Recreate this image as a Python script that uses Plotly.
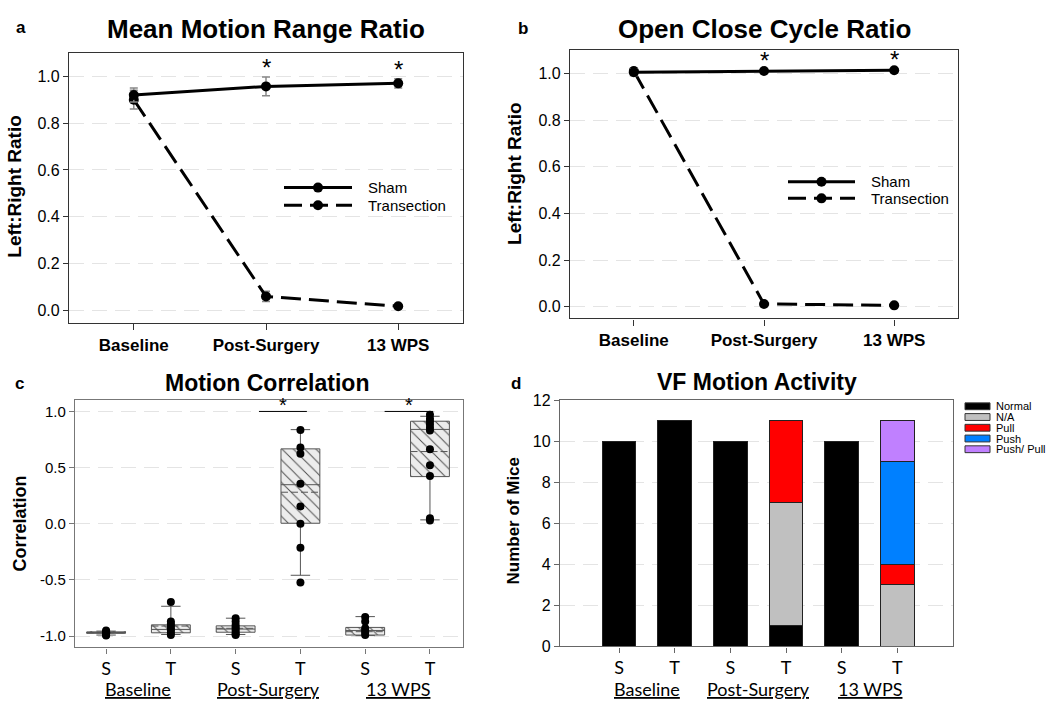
import plotly.graph_objects as go

# ---------------- data ----------------
timepoints = ["Baseline", "Post-Surgery", "13 WPS"]

# Panel a: Mean Motion Range Ratio
a_sham = [0.920, 0.957, 0.970]
a_sham_err = [0.030, 0.040, 0.020]
a_trans = [0.900, 0.060, 0.018]
a_trans_err = [0.040, 0.022, 0.006]

# Panel b: Open Close Cycle Ratio
b_sham = [1.005, 1.010, 1.013]
b_sham_err = [0.015, 0.004, 0.004]
b_trans = [1.010, 0.012, 0.006]
b_trans_err = [0.012, 0.004, 0.003]

# Panel c: Motion Correlation (box statistics + individual points)
c_labels = ["S", "T", "S", "T", "S", "T"]
c_q1 = [-0.975, -0.970, -0.965, 0.005, -0.990, 0.420]
c_median = [-0.968, -0.940, -0.937, 0.348, -0.950, 0.840]
c_mean = [-0.970, -0.910, -0.930, 0.281, -0.960, 0.643]
c_q3 = [-0.962, -0.899, -0.908, 0.667, -0.922, 0.913]
c_lowfence = [-0.990, -0.985, -0.985, -0.458, -0.995, 0.035]
c_highfence = [-0.955, -0.734, -0.840, 0.838, -0.826, 0.957]
c_points = [
    [-0.95, -0.96, -0.965, -0.97, -0.975, -0.98, -0.99, -0.995],
    [-0.696, -0.87, -0.89, -0.91, -0.93, -0.95, -0.97, -0.99],
    [-0.84, -0.87, -0.90, -0.92, -0.94, -0.96, -0.98, -0.99],
    [0.835, 0.680, 0.623, 0.357, 0.154, 0.000, -0.212, -0.522],
    [-0.83, -0.87, -0.93, -0.95, -0.97, -0.99],
    [0.970, 0.936, 0.910, 0.884, 0.855, 0.830, 0.664, 0.522, 0.426, 0.049, 0.030],
]

# Panel d: VF Motion Activity (number of mice)
d_labels = ["S", "T", "S", "T", "S", "T"]
d_series = ["Normal", "N/A", "Pull", "Push", "Push/ Pull"]
d_normal = [10, 11, 10, 1, 10, 0]
d_na = [0, 0, 0, 6, 0, 3]
d_pull = [0, 0, 0, 4, 0, 1]
d_push = [0, 0, 0, 0, 0, 5]
d_pushpull = [0, 0, 0, 0, 0, 2]
d_colors = ["#000000", "#c0c0c0", "#ff0000", "#0080ff", "#c080ff"]

# ---------------- layout helpers ----------------
W, H = 1050, 714
def fx(p):
    return p / W
def fy(p):
    return 1 - p / H

ARIAL = "Liberation Sans"
CAL = "Lato"
GRID = "#e4e4e4"
BOXW = 0.6

fig = go.Figure()

# ---------- panels a & b (line charts) ----------
def line_panel(xa, ya, sham, sham_err, trans, trans_err):
    xs = list(range(len(timepoints)))
    fig.add_trace(go.Scatter(
        x=xs, y=trans, mode="lines+markers", xaxis=xa, yaxis=ya,
        line=dict(color="black", width=3, dash="20px,8px"),
        marker=dict(color="black", size=10),
        error_y=dict(type="data", array=trans_err, color="#888888", thickness=1.5, width=4),
        showlegend=False, name="Transection"))
    fig.add_trace(go.Scatter(
        x=xs, y=sham, mode="lines+markers", xaxis=xa, yaxis=ya,
        line=dict(color="black", width=3),
        marker=dict(color="black", size=10),
        error_y=dict(type="data", array=sham_err, color="#888888", thickness=1.5, width=4),
        showlegend=False, name="Sham"))

line_panel("x", "y", a_sham, a_sham_err, a_trans, a_trans_err)
line_panel("x2", "y2", b_sham, b_sham_err, b_trans, b_trans_err)

# ---------- panel c (box plots) ----------
c_x = list(range(len(c_labels)))
fig.add_trace(go.Bar(
    x=c_x, y=[q3 - q1 for q1, q3 in zip(c_q1, c_q3)], base=c_q1, width=BOXW,
    xaxis="x3", yaxis="y3", showlegend=False,
    marker=dict(color="#ececec", line=dict(width=0),
                pattern=dict(shape="\\", fgcolor="#4d4d4d", bgcolor="#ececec",
                             size=8, solidity=0.12, fillmode="replace"))))
fig.add_trace(go.Box(
    x=c_x, q1=c_q1, median=c_median, q3=c_q3,
    lowerfence=c_lowfence, upperfence=c_highfence, boxmean=False,
    boxpoints=False, width=BOXW, whiskerwidth=0.5,
    fillcolor="rgba(0,0,0,0)", line=dict(color="#555555", width=1),
    xaxis="x3", yaxis="y3", showlegend=False))
# mean lines (dashed) across each box
mx, my = [], []
for xi, m in zip(c_x, c_mean):
    mx += [xi - BOXW / 2, xi + BOXW / 2, None]
    my += [m, m, None]
fig.add_trace(go.Scatter(x=mx, y=my, mode="lines", xaxis="x3", yaxis="y3",
                         line=dict(color="#555555", width=1, dash="7px,3px"),
                         showlegend=False, hoverinfo="skip"))
px_, py_ = [], []
for i, pts in enumerate(c_points):
    px_ += [c_x[i]] * len(pts)
    py_ += pts
fig.add_trace(go.Scatter(x=px_, y=py_, mode="markers", xaxis="x3", yaxis="y3",
                         marker=dict(color="black", size=8), showlegend=False))

# ---------- panel d (stacked bars) ----------
d_x = list(range(len(d_labels)))
for name, vals, col in zip(d_series, [d_normal, d_na, d_pull, d_push, d_pushpull], d_colors):
    fig.add_trace(go.Bar(
        x=d_x, y=[v if v else None for v in vals], width=0.6, name=name,
        marker=dict(color=col, line=dict(color="#222222", width=1)),
        xaxis="x4", yaxis="y4", showlegend=False))

# ---------- axes ----------
def ax_common(**kw):
    base = dict(showline=True, mirror=True, linewidth=1.3, ticks="outside",
                zeroline=False, showgrid=False)
    base.update(kw)
    return base

lay = dict(
    width=W, height=H, margin=dict(l=0, r=0, t=0, b=0),
    paper_bgcolor="white", plot_bgcolor="white", barmode="stack",
    font=dict(family=ARIAL, color="black"),
    # panel a
    xaxis=ax_common(domain=[fx(69), fx(463)], anchor="y", range=[-0.49, 2.49],
                    tickvals=[0, 1, 2], ticktext=timepoints, linecolor="#333333",
                    tickcolor="#333333", ticklen=6,
                    tickfont=dict(family=ARIAL, size=17, weight="bold")),
    yaxis=ax_common(domain=[fy(323), fy(46)], anchor="x", range=[-0.055, 1.1],
                    tickvals=[0, 0.2, 0.4, 0.6, 0.8, 1.0], tickformat=".1f",
                    linecolor="#333333", tickcolor="#333333", ticklen=5,
                    showgrid=True, gridcolor=GRID, griddash="15px,8px",
                    tickfont=dict(family=ARIAL, size=16)),
    # panel b
    xaxis2=ax_common(domain=[fx(570), fx(958)], anchor="y2", range=[-0.49, 2.49],
                     tickvals=[0, 1, 2], ticktext=timepoints, linecolor="#333333",
                     tickcolor="#333333", ticklen=6,
                     tickfont=dict(family=ARIAL, size=17, weight="bold")),
    yaxis2=ax_common(domain=[fy(318), fy(43)], anchor="x2", range=[-0.05, 1.1],
                     tickvals=[0, 0.2, 0.4, 0.6, 0.8, 1.0], tickformat=".1f",
                     linecolor="#333333", tickcolor="#333333", ticklen=5,
                     showgrid=True, gridcolor=GRID, griddash="15px,8px",
                     tickfont=dict(family=ARIAL, size=16)),
    # panel c
    xaxis3=ax_common(domain=[fx(75), fx(463)], anchor="y3", range=[-0.48, 5.51],
                     tickvals=c_x, ticktext=c_labels, linecolor="#777777",
                     tickcolor="#777777", ticklen=5,
                     tickfont=dict(family=CAL, size=18)),
    yaxis3=ax_common(domain=[fy(655), fy(402)], anchor="x3", range=[-1.1, 1.098],
                     tickvals=[-1, -0.5, 0, 0.5, 1],
                     ticktext=["-1.0", "-0.5", "0.0", "0.5", "1.0"],
                     linecolor="#777777", tickcolor="#777777", ticklen=5,
                     showgrid=True, gridcolor=GRID, griddash="15px,8px",
                     tickfont=dict(family=ARIAL, size=15)),
    # panel d
    xaxis4=ax_common(domain=[fx(560), fx(953)], anchor="y4", range=[-1.06, 6.0],
                     tickvals=d_x, ticktext=d_labels, linecolor="#666666",
                     tickcolor="#666666", ticklen=5,
                     tickfont=dict(family=CAL, size=18)),
    yaxis4=ax_common(domain=[fy(654), fy(402)], anchor="x4", range=[0, 12],
                     tickvals=[0, 2, 4, 6, 8, 10, 12],
                     linecolor="#666666", tickcolor="#666666", ticklen=5,
                     showgrid=True, gridcolor=GRID, griddash="15px,8px",
                     tickfont=dict(family=ARIAL, size=16)),
)
fig.update_layout(**lay)

# ---------- text ----------
ann = []
def paper_text(x, y, text, size, bold=False, angle=0, family=ARIAL, xanchor="center"):
    ann.append(dict(x=fx(x), y=fy(y), xref="paper", yref="paper", text=text,
                    showarrow=False, textangle=angle, xanchor=xanchor, yanchor="middle",
                    font=dict(family=family, size=size, color="black",
                              weight="bold" if bold else "normal")))

# panel letters
paper_text(21, 20, "a", 17, bold=True)
paper_text(523, 21, "b", 17, bold=True)
paper_text(19, 385, "c", 17, bold=True)
paper_text(516, 385, "d", 17, bold=True)
# titles
paper_text(266, 22, "Mean Motion Range Ratio", 26, bold=True)
paper_text(764, 21, "Open Close Cycle Ratio", 26, bold=True)
paper_text(267, 384, "Motion Correlation", 23, bold=True)
paper_text(757, 383, "VF Motion Activity", 23, bold=True)
# y-axis titles
paper_text(15, 183, "Left:Right Ratio", 19, bold=True, angle=-90)
paper_text(515, 170, "Left:Right Ratio", 19, bold=True, angle=-90)
paper_text(20, 528, "Correlation", 18, bold=True, angle=-90)
paper_text(513, 525, "Number of Mice", 17, bold=True, angle=-90)

# group labels (underlined) for c and d
for xa in ["x3", "x4"]:
    for gx, g in zip([0.5, 2.5, 4.5], timepoints):
        ann.append(dict(x=gx, y=fy(698), xref=xa, yref="paper", text="<u>%s</u>" % g,
                        showarrow=False, yanchor="middle",
                        font=dict(family=CAL, size=18, color="black")))

# significance stars, panels a & b
for xa, ya, sham, err in [("x", "y", a_sham, a_sham_err), ("x2", "y2", b_sham, b_sham_err)]:
    for i in [1, 2]:
        ann.append(dict(x=i, y=sham[i] + err[i], xref=xa, yref=ya, text="*",
                        showarrow=False, yanchor="bottom", yshift=-6,
                        font=dict(family=ARIAL, size=24, color="black")))

# significance bars, panel c
shapes = []
for x0, x1 in [(2.36, 3.10), (4.30, 5.05)]:
    shapes.append(dict(type="line", xref="x3", yref="y3", x0=x0, x1=x1, y0=1.0, y1=1.0,
                       line=dict(color="black", width=1)))
    ann.append(dict(x=(x0 + x1) / 2, y=1.0, xref="x3", yref="y3", text="*",
                    showarrow=False, yanchor="bottom", yshift=-7,
                    font=dict(family=ARIAL, size=20, color="black")))

# legends for a and b (drawn as keys)
def line_legend(x0, x1, y_sham, y_trans, xtext):
    for y, dash, label in [(y_sham, "solid", "Sham"), (y_trans, "18px,8px", "Transection")]:
        shapes.append(dict(type="line", xref="paper", yref="paper", x0=fx(x0), x1=fx(x1),
                           y0=fy(y), y1=fy(y), line=dict(color="black", width=3, dash=dash)))
        xm = (x0 + x1) / 2
        shapes.append(dict(type="circle", xref="paper", yref="paper",
                           xsizemode="pixel", ysizemode="pixel",
                           xanchor=fx(xm), yanchor=fy(y), x0=-5, x1=5, y0=-5, y1=5,
                           fillcolor="black", line=dict(color="black", width=0)))
        ann.append(dict(x=fx(xtext), y=fy(y), xref="paper", yref="paper", text=label,
                        showarrow=False, xanchor="left", yanchor="middle",
                        font=dict(family=ARIAL, size=15, color="black")))

line_legend(284, 352, 184, 202, 366)
line_legend(788, 855, 178, 195, 869)

# legend for d
for k, (name, col) in enumerate(zip(d_series, d_colors)):
    yc = 408 + k * 11
    shapes.append(dict(type="rect", xref="paper", yref="paper",
                       x0=fx(965), x1=fx(990), y0=fy(yc + 3.5), y1=fy(yc - 3.5),
                       fillcolor=col, line=dict(color="#333333", width=1)))
    ann.append(dict(x=fx(994), y=fy(yc), xref="paper", yref="paper", text=name,
                    showarrow=False, xanchor="left", yanchor="middle",
                    font=dict(family=ARIAL, size=11, color="black")))

fig.update_layout(annotations=ann, shapes=shapes)

post = (
    "var d=document.documentElement.style;d.margin='0';d.padding='0';d.overflow='hidden';d.height='714px';"
    "var b=document.body.style;b.margin='0';b.padding='0';b.overflow='hidden';b.height='714px';"
    "var g=document.getElementById('{plot_id}');g.style.position='fixed';g.style.top='0px';g.style.left='0px';"
)
fig.write_html("out.html", config={"displayModeBar": False}, post_script=post)
